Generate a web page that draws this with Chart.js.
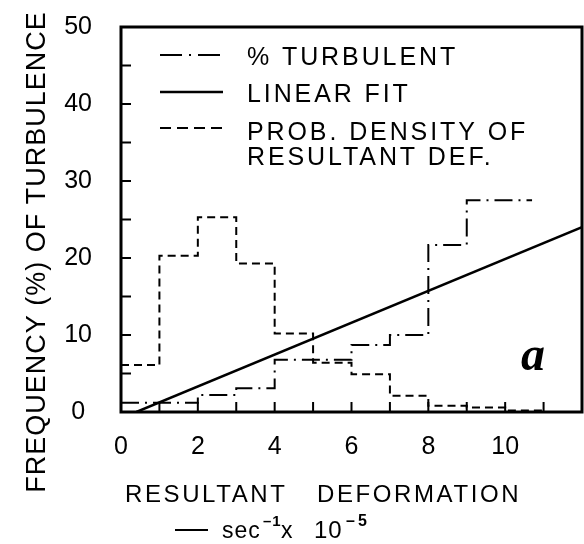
<!DOCTYPE html>
<html>
<head>
<meta charset="utf-8">
<script src="https://cdn.jsdelivr.net/npm/chart.js@4"></script>
<style>
  html, body { margin: 0; padding: 0; background: #fff; }
  canvas { display: block; }
</style>
</head>
<body>
<canvas id="chart" width="584" height="544"></canvas>
<script>
// values (x in sec^-1 x 10^-5, y in %)
const pdfX = [0, 1, 2, 3, 4, 5, 6, 7, 8, 9, 10, 11];
const pdfY = [6.1, 20.3, 25.3, 19.3, 10.2, 6.4, 4.9, 2.1, 0.8, 0.6, 0.2, 0.2];
const turbX = [0, 2, 3, 4, 6, 7, 8, 9, 10.7];
const turbY = [1.2, 2.2, 3.1, 6.8, 8.7, 10, 21.7, 27.5, 27.5];
const fitX = [0.4, 12];
const fitY = [0, 24];
const xLabels = [0, 2, 4, 6, 8, 10];
const yLabels = [0, 10, 20, 30, 40, 50];
const legendRows = [["% TURBULENT"], ["LINEAR FIT"], ["PROB. DENSITY OF", "RESULTANT DEF."]];

const font = "Liberation Sans";
const turbDash = [18, 6, 2, 6];
const pdfDash = [8, 5];

const toPoints = (xs, ys) => xs.map((v, i) => ({ x: v, y: ys[i] }));

const decorations = {
  id: "decorations",
  afterDraw(chart) {
    const { ctx, chartArea: a, scales: { x, y } } = chart;
    ctx.save();
    ctx.strokeStyle = "#000";
    ctx.fillStyle = "#000";

    // inward tick marks
    ctx.lineWidth = 2;
    ctx.beginPath();
    x.ticks.forEach(t => {
      if (t.value <= x.min || t.value >= x.max) return;
      const px = x.getPixelForValue(t.value);
      ctx.moveTo(px, a.bottom);
      ctx.lineTo(px, a.bottom - 10);
    });
    y.ticks.forEach(t => {
      if (t.value <= y.min || t.value >= y.max) return;
      const py = y.getPixelForValue(t.value);
      ctx.moveTo(a.left, py);
      ctx.lineTo(a.left + 10, py);
    });
    ctx.stroke();

    // frame
    ctx.lineWidth = 3;
    ctx.strokeRect(a.left, a.top, a.right - a.left, a.bottom - a.top);

    // legend inside the plot
    const sx0 = a.left + 39, sx1 = a.left + 102, tx = a.left + 126;
    const samples = [
      { dash: [22, 7, 2, 7], width: 2, y: a.top + 28 },
      { dash: [], width: 2.5, y: a.top + 65 },
      { dash: [11, 6], width: 2, y: a.top + 101 }
    ];
    const baselines = [[a.top + 38], [a.top + 75], [a.top + 113, a.top + 138]];
    samples.forEach(s => {
      ctx.setLineDash(s.dash);
      ctx.lineWidth = s.width;
      ctx.beginPath();
      ctx.moveTo(sx0, s.y);
      ctx.lineTo(sx1, s.y);
      ctx.stroke();
    });
    ctx.setLineDash([]);
    ctx.font = `25px "${font}"`;
    ctx.letterSpacing = "2.9px";
    ctx.textAlign = "left";
    ctx.textBaseline = "alphabetic";
    legendRows.forEach((lines, i) => {
      lines.forEach((txt, j) => ctx.fillText(txt, tx, baselines[i][j]));
    });

    // panel letter
    ctx.letterSpacing = "0px";
    ctx.font = `bold italic 48px "Liberation Serif"`;
    ctx.fillText("a", a.left + 400, a.top + 343);

    // y title
    ctx.save();
    ctx.font = `27px "${font}"`;
    ctx.letterSpacing = "1px";
    ctx.textAlign = "center";
    ctx.translate(45, 252);
    ctx.rotate(-Math.PI / 2);
    ctx.fillText("FREQUENCY (%) OF TURBULENCE", 0, 0);
    ctx.restore();

    // x title, two lines
    ctx.font = `24px "${font}"`;
    ctx.letterSpacing = "2.6px";
    ctx.fillText("RESULTANT", 125, 502);
    ctx.fillText("DEFORMATION", 317, 502);

    ctx.letterSpacing = "1px";
    ctx.lineWidth = 2;
    ctx.beginPath();
    ctx.moveTo(175, 530);
    ctx.lineTo(208, 530);
    ctx.stroke();
    ctx.font = `23px "${font}"`;
    ctx.fillText("sec", 222, 538);
    ctx.fillText("x", 281, 538);
    ctx.font = `bold 15px "${font}"`;
    ctx.fillText("–1", 263, 526);
    ctx.font = `24px "${font}"`;
    ctx.fillText("10", 314, 538);
    ctx.font = `bold 16px "${font}"`;
    ctx.letterSpacing = "3px";
    ctx.fillText("–5", 346, 526);

    ctx.restore();
  }
};

new Chart(document.getElementById("chart"), {
  type: "line",
  data: {
    datasets: [
      {
        label: "% TURBULENT",
        data: toPoints(turbX, turbY),
        stepped: true,
        borderColor: "#000",
        borderWidth: 2,
        borderDash: turbDash,
        pointRadius: 0,
        fill: false
      },
      {
        label: "LINEAR FIT",
        data: toPoints(fitX, fitY),
        borderColor: "#000",
        borderWidth: 2.5,
        pointRadius: 0,
        fill: false
      },
      {
        label: "PROB. DENSITY OF RESULTANT DEF.",
        data: toPoints(pdfX, pdfY),
        stepped: true,
        borderColor: "#000",
        borderWidth: 2,
        borderDash: pdfDash,
        pointRadius: 0,
        fill: false
      }
    ]
  },
  options: {
    responsive: false,
    animation: false,
    layout: { padding: { top: 27, right: 2, left: 0, bottom: 0 } },
    plugins: { legend: { display: false }, tooltip: { enabled: false } },
    scales: {
      x: {
        type: "linear",
        min: 0,
        max: 12,
        afterFit: s => {
          s.height = 132;
          s.paddingLeft = 0;
          s.paddingRight = 0;
        },
        grid: { display: false, drawTicks: false },
        border: { display: false },
        ticks: {
          stepSize: 1,
          autoSkip: false,
          maxRotation: 0,
          padding: 20,
          color: "#000",
          font: { family: font, size: 25 },
          callback: v => xLabels.includes(v) ? v : ""
        }
      },
      y: {
        min: 0,
        max: 50,
        afterFit: s => {
          s.width = 121;
          s.paddingTop = 0;
          s.paddingBottom = 0;
        },
        grid: { display: false, drawTicks: false },
        border: { display: false },
        ticks: {
          stepSize: 5,
          autoSkip: false,
          padding: 29,
          crossAlign: "center",
          color: "#000",
          font: { family: font, size: 25 },
          callback: v => yLabels.includes(v) ? v : ""
        }
      }
    }
  },
  plugins: [decorations]
});
</script>
</body>
</html>
